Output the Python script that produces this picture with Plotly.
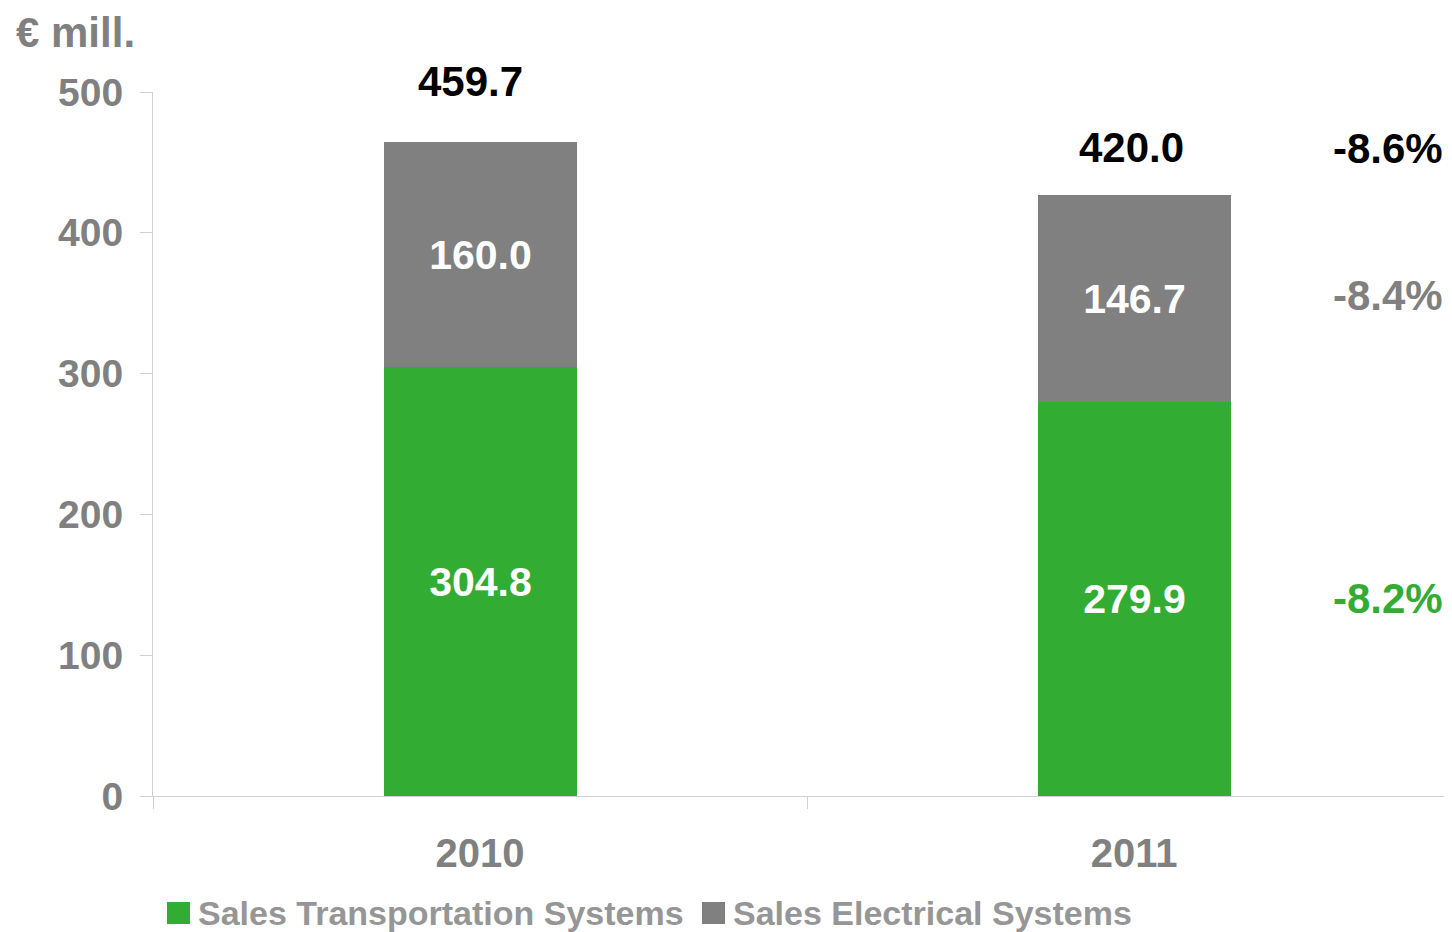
import plotly.graph_objects as go

years = ["2010", "2011"]
transport = [304.8, 279.9]
electrical = [160.0, 146.7]
totals_text = ["459.7", "420.0"]
series_names = ["Sales Transportation Systems", "Sales Electrical Systems"]
change_text = ["-8.6%", "-8.4%", "-8.2%"]
y_ticks = [0, 100, 200, 300, 400, 500]

GREEN = "#33ac33"
GRAY = "#808080"
AXIS = "#d0d0d0"
FONT = "Liberation Sans, Arial, sans-serif"

# page body has an 8px margin -> figure is 1444x924, screen coords minus 8
W, H = 1444, 924
L, T, B = 145, 84, 136
PW = W - L
PH = H - T - B

fig = go.Figure()
fig.add_bar(x=years, y=transport, name=series_names[0], marker_color=GREEN,
            marker_line_width=0, width=0.295,
            text=[f"{v:.1f}" for v in transport], textposition="inside",
            insidetextanchor="middle", textangle=0,
            textfont=dict(family=FONT, size=41, color="white", weight="bold"),
            showlegend=False)
fig.add_bar(x=years, y=electrical, name=series_names[1], marker_color=GRAY,
            marker_line_width=0, width=0.295,
            text=[f"{v:.1f}" for v in electrical], textposition="inside",
            insidetextanchor="middle", textangle=0,
            textfont=dict(family=FONT, size=41, color="white", weight="bold"),
            showlegend=False)

# totals above bars
total_shift = [35, 22]
total_dx = [-0.015, -0.004]
for i, yr in enumerate(years):
    top = transport[i] + electrical[i]
    fig.add_annotation(x=i + total_dx[i], y=top, xref="x", yref="y", text=totals_text[i],
                       showarrow=False, yanchor="bottom", yshift=total_shift[i],
                       font=dict(family=FONT, size=42, color="black", weight="bold"))

# change percentages (aligned with 2011 labels)
pct_x = 1.388
pct_colors = ["black", GRAY, GREEN]
top11 = transport[1] + electrical[1]
pct_y = [top11, transport[1] + electrical[1] / 2, transport[1] / 2]
pct_anchor = ["bottom", "middle", "middle"]
pct_shift = [21, 3, 0]
for txt, yv, col, anc, sh in zip(change_text, pct_y, pct_colors, pct_anchor, pct_shift):
    fig.add_annotation(x=pct_x, y=yv, xref="x", yref="y", text=txt, showarrow=False,
                       yanchor=anc, yshift=sh,
                       font=dict(family=FONT, size=42, color=col, weight="bold"))

# unit label
fig.add_annotation(xref="paper", yref="paper", x=(15 - 8 - L) / PW,
                   y=1, yshift=T, xanchor="left", yanchor="top",
                   text="€ mill.", showarrow=False, borderpad=0,
                   font=dict(family=FONT, size=42, color=GRAY, weight="bold"))

# manual legend
leg_colors = [GREEN, GRAY]
leg_x = [167, 702]
for name, col, lx in zip(series_names, leg_colors, leg_x):
    sx = lx - 8
    fig.add_shape(type="rect", xref="paper", yref="paper",
                  x0=(sx - L) / PW, x1=(sx + 23 - L) / PW,
                  y0=(796 - 924) / PH, y1=(796 - 902) / PH,
                  fillcolor=col, line_width=0)
    fig.add_annotation(x=(sx + 30 - L) / PW, y=(796 - 913) / PH, xref="paper",
                       yref="paper", text=name, showarrow=False, xanchor="left",
                       yanchor="middle", borderpad=0,
                       font=dict(family=FONT, size=34, color="#969696", weight="bold"))

fig.update_layout(
    width=W, height=H, barmode="stack", bargap=0,
    margin=dict(l=L, r=0, t=T, b=B, pad=0),
    plot_bgcolor="white", paper_bgcolor="white",
    font=dict(family=FONT, color=GRAY),
)
fig.update_xaxes(type="category", range=[-0.5, 1.486], tickson="boundaries",
                 ticks="outside", ticklen=12, tickcolor=AXIS, showline=True,
                 linecolor=AXIS, linewidth=1, showgrid=False, ticklabelstandoff=22,
                 tickfont=dict(family=FONT, size=40, color=GRAY, weight="bold"))
fig.update_yaxes(range=[0, 500], tickvals=y_ticks, ticks="outside", ticklen=12,
                 tickcolor=AXIS, showline=True, linecolor=AXIS, linewidth=1,
                 showgrid=False, zeroline=False, ticklabelstandoff=9,
                 tickfont=dict(family=FONT, size=39, color=GRAY, weight="bold"))

fig.write_html("out.html")
